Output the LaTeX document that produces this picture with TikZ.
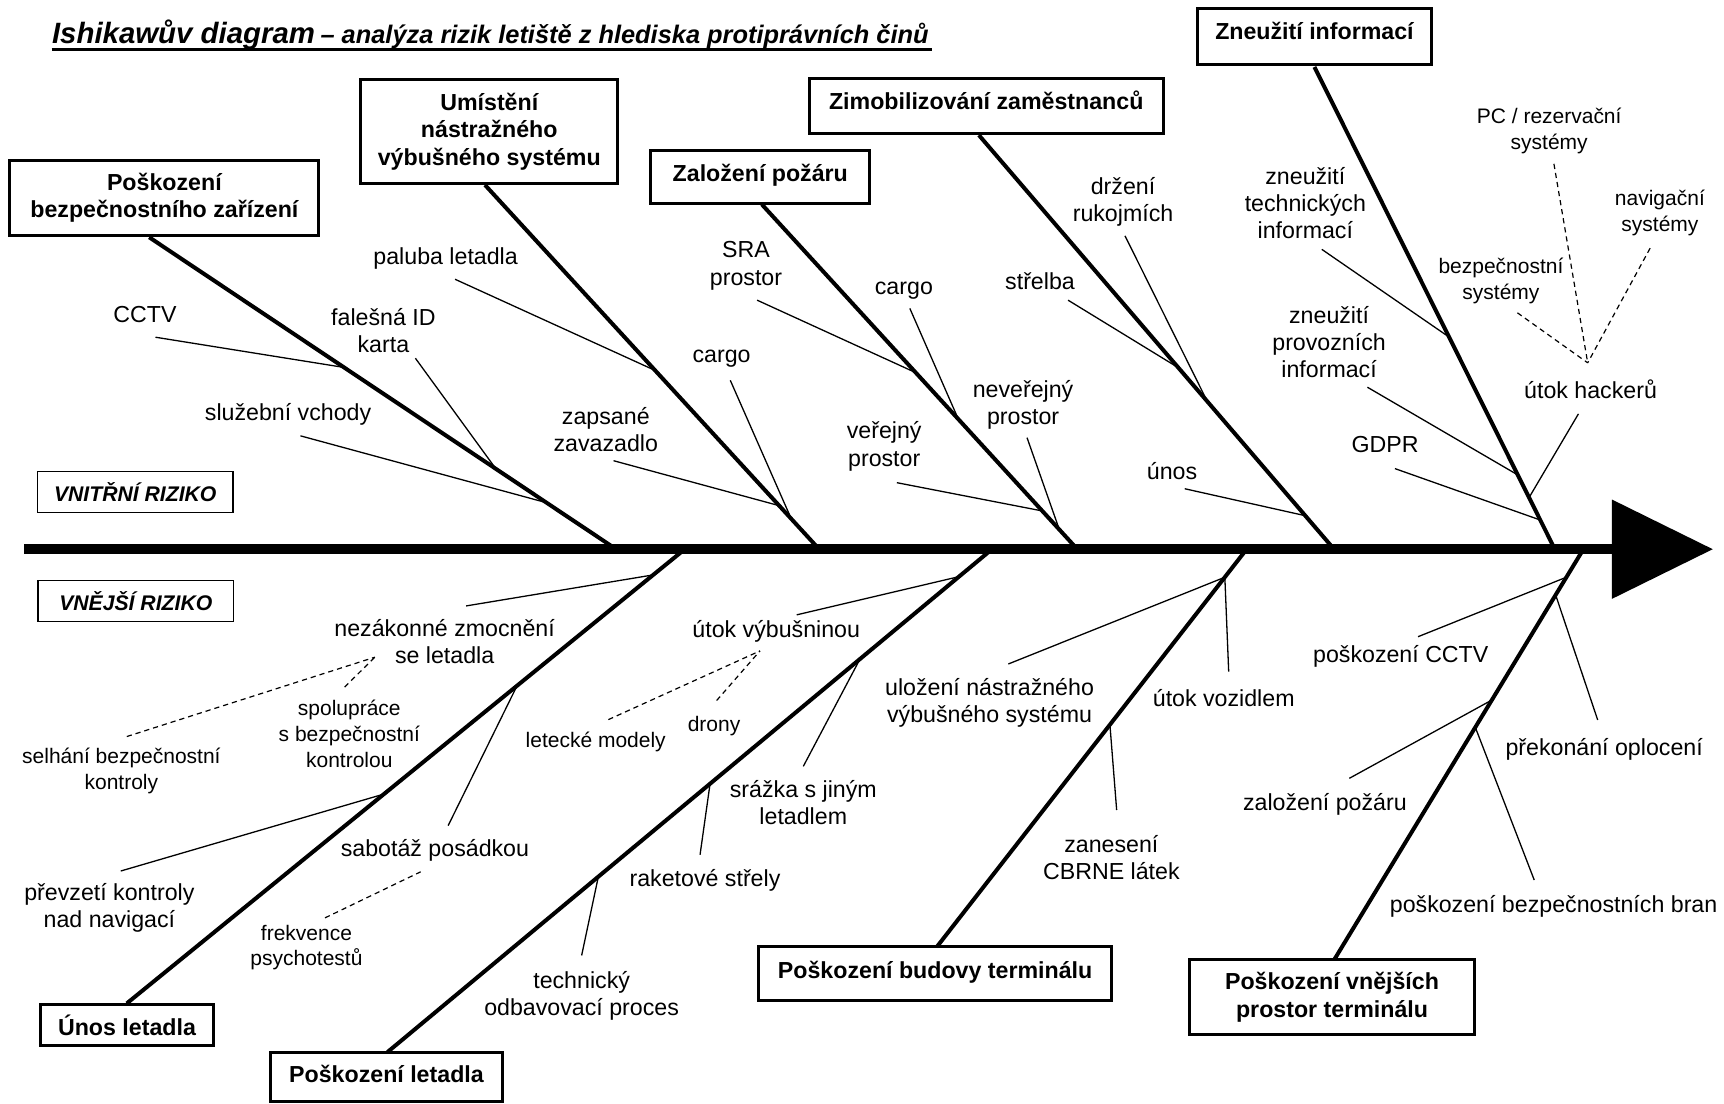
\documentclass[tikz,border=0pt]{standalone}
\usepackage{fontspec}
\setmainfont{Liberation Sans}
\usetikzlibrary{arrows.meta}

\begin{document}
\begin{tikzpicture}[x=0.55pt, y=-0.55pt,
        bone/.style={line width=2pt},
        twig/.style={line width=0.65pt},
        hint/.style={line width=0.6pt, dash pattern=on 2.6pt off 2pt},
        cause/.style={draw, line width=1.5pt, align=center, font=\bfseries\fontsize{11.6}{13.8}\selectfont},
        lift/.style={text height=8.6pt, text depth=#1},
        side/.style={draw, line width=0.75pt, minimum width=97.6pt, minimum height=20.5pt, font=\bfseries\itshape\fontsize{10.6}{12}\selectfont},
        lbl/.style={align=center, inner sep=0pt, font=\fontsize{11.6}{13.6}\selectfont},
        sub/.style={align=center, inner sep=0pt, font=\fontsize{10.5}{12.9}\selectfont}]

    \useasboundingbox (0,0) rectangle (1568,1004);

    % nadpis
    \node[anchor=base west, inner sep=0pt] (title) at (47,40) {{\bfseries\itshape\fontsize{14.7}{17}\selectfont Ishikawův diagram} {\bfseries\itshape\fontsize{12.7}{15}\selectfont – analýza rizik letiště z hlediska protiprávních činů}};
    \coordinate (ul1) at (47,45);
    \coordinate (ul2) at (848,45);
    \draw[line width=1.2pt] (ul1) -- (ul2);

    % hlavni osa
    \coordinate (tail) at (22,499.5);
    \coordinate (head) at (1558,499.5);
    \draw[line width=5pt, -{Triangle[length=50.6pt, width=48.4pt]}] (tail) -- (head);

    \node[side] (inside) at (123,447.6) {VNITŘNÍ RIZIKO};
    \node[side] (outside) at (123.5,546.4) {VNĚJŠÍ RIZIKO};

    % hlavni priciny
    \node[cause, minimum width=154.6pt, minimum height=37.4pt] (c1) at (149.5,180) {Poškození\\bezpečnostního zařízení};
    \node[cause, minimum width=128.7pt, minimum height=52.3pt] (c2) at (445,119.5) {Umístění\\nástražného\\výbušného systému};
    \node[cause, lift=4.4pt, minimum width=109.5pt, minimum height=26.4pt] (c3) at (691.5,161) {Založení požáru};
    \node[cause, lift=4.4pt, minimum width=177.1pt, minimum height=27.5pt] (c4) at (897,96) {Zimobilizování zaměstnanců};
    \node[cause, lift=6.2pt, minimum width=117.2pt, minimum height=28.1pt] (c5) at (1195.5,33.5) {Zneužití informací};
    \node[cause, minimum width=86.4pt, minimum height=20.4pt] (c6) at (115.5,932.5) {Únos letadla};
    \node[cause, lift=3pt, minimum width=116.1pt, minimum height=24.8pt] (c7) at (351.5,979.5) {Poškození letadla};
    \node[cause, lift=3.8pt, minimum width=176.6pt, minimum height=27pt] (c8) at (850.5,885.5) {Poškození budovy terminálu};
    \node[cause, minimum width=142.5pt, minimum height=37.4pt] (c9) at (1211.5,907) {Poškození vnějších\\prostor terminálu};

    % kosti
    \coordinate (b1) at (135.7,215.8);  \coordinate (e1) at (560.4,499.5);
    \coordinate (b2) at (441.1,168.2);  \coordinate (e2) at (745,499.5);
    \coordinate (b3) at (692.9,185.9);  \coordinate (e3) at (979.8,499.5);
    \coordinate (b4) at (890.3,122.9);  \coordinate (e4) at (1213.3,499.5);
    \coordinate (b5) at (1195.5,60.9);  \coordinate (e5) at (1414.1,499.5);
    \coordinate (b6) at (115.3,912.6);  \coordinate (e6) at (622.8,499.5);
    \coordinate (b7) at (352.4,956.9);  \coordinate (e7) at (902.2,499.5);
    \coordinate (b8) at (852.2,861);    \coordinate (e8) at (1133.8,499.5);
    \coordinate (b9) at (1214,872);     \coordinate (e9) at (1440.1,499.5);
    \draw[bone] (b1) -- (e1);
    \draw[bone] (b2) -- (e2);
    \draw[bone] (b3) -- (e3);
    \draw[bone] (b4) -- (e4);
    \draw[bone] (b5) -- (e5);
    \draw[bone] (b6) -- (e6);
    \draw[bone] (b7) -- (e7);
    \draw[bone] (b8) -- (e8);
    \draw[bone] (b9) -- (e9);

    % vnitrni riziko - popisky
    \node[lbl] (cctv) at (131.9,286.4) {CCTV};
    \node[lbl] (idkarta) at (348.7,300.3) {falešná ID\\karta};
    \node[lbl] (vchody) at (262,377.3) {služební vchody};
    \node[lbl] (paluba) at (405.3,234.9) {paluba letadla};
    \node[lbl] (zavazadlo) at (551,391) {zapsané\\zavazadlo};
    \node[lbl] (cargoA) at (656.3,326.4) {cargo};
    \node[lbl] (sra) at (678.5,241.8) {SRA\\prostor};
    \node[lbl] (cargoB) at (822.1,264) {cargo};
    \node[lbl] (verejny) at (804.2,406) {veřejný\\prostor};
    \node[lbl] (neverejny) at (930.5,368.3) {neveřejný\\prostor};
    \node[lbl] (rukojmi) at (1021.4,183.4) {držení\\rukojmích};
    \node[lbl] (strelba) at (945.9,255.9) {střelba};
    \node[lbl] (unos) at (1066,428) {únos};
    \node[lbl] (techinfo) at (1187.2,184.9) {zneužití\\technických\\informací};
    \node[lbl] (provinfo) at (1208.8,311) {zneužití\\provozních\\informací};
    \node[lbl] (gdpr) at (1259.7,404) {GDPR};
    \node[lbl] (hackeri) at (1446.6,353.6) {útok hackerů};
    \node[sub] (pcsys) at (1409,118.8) {PC / rezervační\\systémy};
    \node[sub] (navsys) at (1509.7,193.9) {navigační\\systémy};
    \node[sub] (bezsys) at (1365.1,255.3) {bezpečnostní\\systémy};

    \coordinate (cctv1) at (141.4,306.7);       \coordinate (cctv2) at (313,334.2);
    \coordinate (idkarta1) at (377.8,325.8);    \coordinate (idkarta2) at (451,426.4);
    \coordinate (vchody1) at (273.3,396.4);     \coordinate (vchody2) at (497,457.2);
    \coordinate (paluba1) at (413.9,254);       \coordinate (paluba2) at (596,337);
    \coordinate (zavazadlo1) at (558,419);      \coordinate (zavazadlo2) at (709,460);
    \coordinate (cargoA1) at (664.2,345.9);     \coordinate (cargoA2) at (719.5,471.5);
    \coordinate (sra1) at (688.6,273);          \coordinate (sra2) at (833,339);
    \coordinate (cargoB1) at (827.5,280.5);     \coordinate (cargoB2) at (871.5,381);
    \coordinate (verejny1) at (815.7,439);      \coordinate (verejny2) at (948,464.7);
    \coordinate (neverejny1) at (934.1,398.1);  \coordinate (neverejny2) at (963.4,481.5);
    \coordinate (rukojmi1) at (1023.2,214.5);   \coordinate (rukojmi2) at (1098,365);
    \coordinate (strelba1) at (971.4,273);      \coordinate (strelba2) at (1071,334);
    \coordinate (unos1) at (1077.5,444.5);      \coordinate (unos2) at (1187,469);
    \coordinate (techinfo1) at (1202.2,226.8);  \coordinate (techinfo2) at (1318,306.6);
    \coordinate (provinfo1) at (1243.7,352.2);  \coordinate (provinfo2) at (1380.5,432);
    \coordinate (gdpr1) at (1268.7,426.2);      \coordinate (gdpr2) at (1401,473);
    \coordinate (hackeri1) at (1435.6,376.4);   \coordinate (hackeri2) at (1391,452);
    \coordinate (hack) at (1444,330);
    \coordinate (pcsys1) at (1413.3,149);
    \coordinate (navsys1) at (1500.8,225.7);
    \coordinate (bezsys1) at (1380.1,284.5);

    \draw[twig] (cctv1) -- (cctv2);
    \draw[twig] (idkarta1) -- (idkarta2);
    \draw[twig] (vchody1) -- (vchody2);
    \draw[twig] (paluba1) -- (paluba2);
    \draw[twig] (zavazadlo1) -- (zavazadlo2);
    \draw[twig] (cargoA1) -- (cargoA2);
    \draw[twig] (sra1) -- (sra2);
    \draw[twig] (cargoB1) -- (cargoB2);
    \draw[twig] (verejny1) -- (verejny2);
    \draw[twig] (neverejny1) -- (neverejny2);
    \draw[twig] (rukojmi1) -- (rukojmi2);
    \draw[twig] (strelba1) -- (strelba2);
    \draw[twig] (unos1) -- (unos2);
    \draw[twig] (techinfo1) -- (techinfo2);
    \draw[twig] (provinfo1) -- (provinfo2);
    \draw[twig] (gdpr1) -- (gdpr2);
    \draw[twig] (hackeri1) -- (hackeri2);
    \draw[hint] (pcsys1) -- (hack);
    \draw[hint] (navsys1) -- (hack);
    \draw[hint] (bezsys1) -- (hack);

    % vnejsi riziko - popisky
    \node[lbl] (zmocneni) at (404.4,583.8) {nezákonné zmocnění\\se letadla};
    \node[sub] (selhani) at (110.4,701.5) {selhání bezpečnostní\\kontroly};
    \node[sub] (spoluprace) at (317.7,667.4) {spolupráce\\s bezpečnostní\\kontrolou};
    \node[lbl] (sabotaz) at (395.6,773.8) {sabotáž posádkou};
    \node[sub] (psychotesty) at (278.7,861.8) {frekvence\\psychotestů};
    \node[lbl] (navigace) at (99.5,826) {převzetí kontroly\\nad navigací};
    \node[lbl] (vybusnina) at (706,574) {útok výbušninou};
    \node[sub] (modely) at (541.8,675) {letecké modely};
    \node[sub] (drony) at (649.4,660.1) {drony};
    \node[lbl] (srazka) at (730.6,730.2) {srážka s jiným\\letadlem};
    \node[lbl] (rakety) at (641.2,801.1) {raketové střely};
    \node[lbl] (odbaveni) at (529,906) {technický\\odbavovací proces};
    \node[lbl] (ulozeni) at (900,639.5) {uložení nástražného\\výbušného systému};
    \node[lbl] (vozidlo) at (1113,635) {útok vozidlem};
    \node[lbl] (cbrne) at (1010.8,780) {zanesení\\CBRNE látek};
    \node[lbl] (kamery) at (1274,597.3) {poškození CCTV};
    \node[lbl] (oploceni) at (1459,682) {překonání oplocení};
    \node[lbl] (pozar) at (1205,732) {založení požáru};
    \node[lbl] (brany) at (1413,824) {poškození bezpečnostních bran};

    \coordinate (zmocneni1) at (423.9,551.1);   \coordinate (zmocneni2) at (594,522.9);
    \coordinate (hz) at (341,597.7);
    \coordinate (selhani1) at (115.3,669.9);
    \coordinate (spoluprace1) at (313.4,624.9);
    \coordinate (sabotaz1) at (407.6,750.9);    \coordinate (sabotaz2) at (470.3,623.6);
    \coordinate (psychotesty1) at (295.6,834.8); \coordinate (psychotesty2) at (382.6,792.9);
    \coordinate (navigace1) at (109.8,792.2);   \coordinate (navigace2) at (349.2,722.2);
    \coordinate (vybusnina1) at (724.6,559.2);  \coordinate (vybusnina2) at (872,524.5);
    \coordinate (hv) at (691.2,592);
    \coordinate (modely1) at (553.3,654.5);
    \coordinate (drony1) at (651.8,637.1);
    \coordinate (srazka1) at (730.6,697);       \coordinate (srazka2) at (782.2,599.3);
    \coordinate (rakety1) at (636.7,777.4);     \coordinate (rakety2) at (645.8,712.8);
    \coordinate (odbaveni1) at (529,869);       \coordinate (odbaveni2) at (544.2,797.3);
    \coordinate (ulozeni1) at (917.1,603.9);    \coordinate (terminal) at (1114,525);
    \coordinate (vozidlo1) at (1117.5,610.9);
    \coordinate (cbrne1) at (1015.6,736.7);     \coordinate (cbrne2) at (1009.5,659.4);
    \coordinate (kamery1) at (1289.7,579.1);    \coordinate (kamery2) at (1424.6,525);
    \coordinate (oploceni1) at (1453.1,654.8);  \coordinate (oploceni2) at (1415,541.5);
    \coordinate (pozar1) at (1227.2,707.9);     \coordinate (pozar2) at (1356.8,636.7);
    \coordinate (brany1) at (1395.4,800.4);     \coordinate (brany2) at (1342,662);

    \draw[twig] (zmocneni1) -- (zmocneni2);
    \draw[hint] (selhani1) -- (hz);
    \draw[hint] (spoluprace1) -- (hz);
    \draw[twig] (sabotaz1) -- (sabotaz2);
    \draw[hint] (psychotesty1) -- (psychotesty2);
    \draw[twig] (navigace1) -- (navigace2);
    \draw[twig] (vybusnina1) -- (vybusnina2);
    \draw[hint] (modely1) -- (hv);
    \draw[hint] (drony1) -- (hv);
    \draw[twig] (srazka1) -- (srazka2);
    \draw[twig] (rakety1) -- (rakety2);
    \draw[twig] (odbaveni1) -- (odbaveni2);
    \draw[twig] (ulozeni1) -- (terminal);
    \draw[twig] (vozidlo1) -- (terminal);
    \draw[twig] (cbrne1) -- (cbrne2);
    \draw[twig] (kamery1) -- (kamery2);
    \draw[twig] (oploceni1) -- (oploceni2);
    \draw[twig] (pozar1) -- (pozar2);
    \draw[twig] (brany1) -- (brany2);

\end{tikzpicture}
\end{document}
